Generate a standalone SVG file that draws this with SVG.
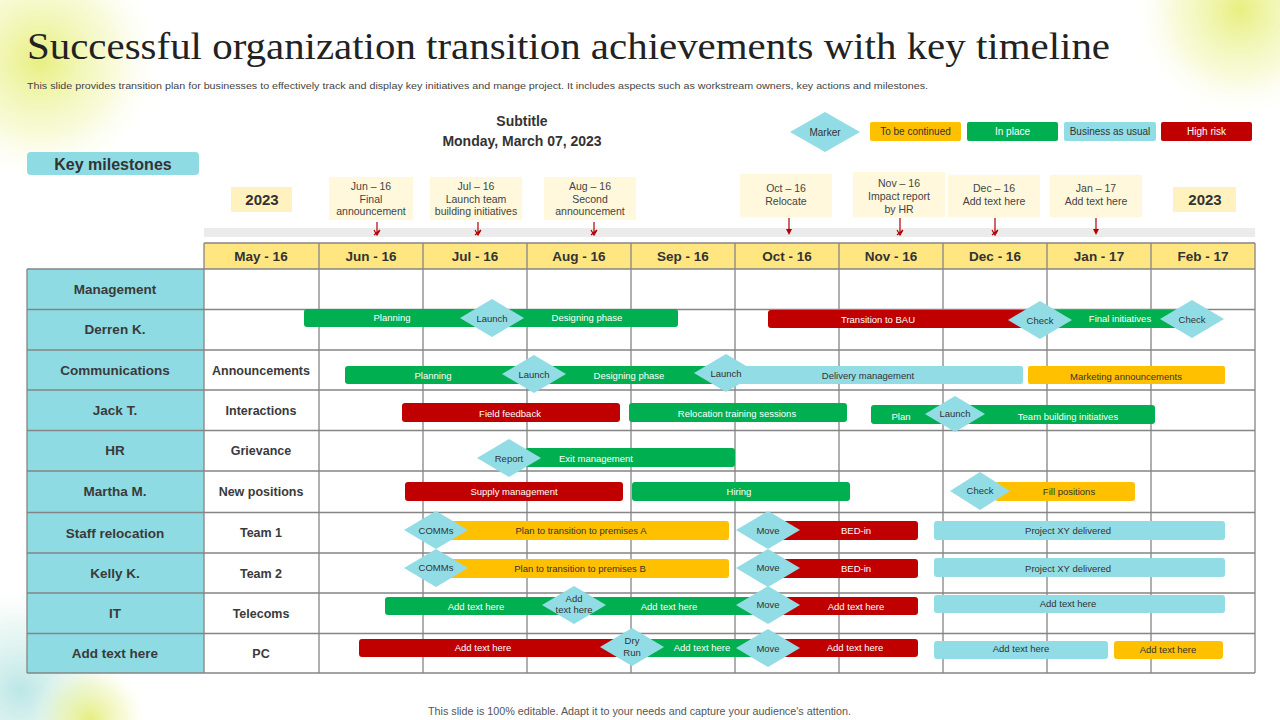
<svg xmlns="http://www.w3.org/2000/svg" width="1280" height="720" viewBox="0 0 1280 720">
<style>
text{font-family:"Liberation Sans",Arial,sans-serif;}
.title{font-family:"Liberation Serif","Times New Roman",serif;font-size:37px;fill:#222;}
.desc{font-size:9.5px;fill:#444;}
.sub{font-size:14px;font-weight:bold;fill:#333;text-anchor:middle;}
.ms{fill:#FFF8DC;}
.yr{fill:#FFF2BF;}
.mst{font-size:10.5px;fill:#444;text-anchor:middle;}
.yrt{font-size:15px;font-weight:bold;fill:#333;text-anchor:middle;}
.hdr{fill:#FFE680;}
.ht{font-size:13.5px;font-weight:bold;fill:#333;text-anchor:middle;}
.teal{fill:#8FDBE4;}
.rt{font-size:13.5px;font-weight:bold;fill:#3a3a3a;text-anchor:middle;}
.st{font-size:12.5px;font-weight:bold;fill:#3a3a3a;text-anchor:middle;}
.grid{stroke:#858585;stroke-width:1.3;fill:none;}
.g{fill:#00B050;}
.r{fill:#C00000;}
.o{fill:#FFC000;}
.b{fill:#92DCE5;}
.dm{fill:#92DCE5;}
.wt{font-size:9.5px;fill:#fff;text-anchor:middle;}
.dt{font-size:9.5px;fill:#333;text-anchor:middle;}
.arr{stroke:#B00000;stroke-width:1.2;fill:none;}
.lg{font-size:10px;text-anchor:middle;}
</style>
<defs>
<radialGradient id="glowY" cx="50%" cy="50%" r="50%">
<stop offset="0" stop-color="#E3EC68" stop-opacity="0.85"/>
<stop offset="0.6" stop-color="#EEF4A0" stop-opacity="0.4"/>
<stop offset="1" stop-color="#ffffff" stop-opacity="0"/>
</radialGradient>
<radialGradient id="glowT" cx="50%" cy="50%" r="50%">
<stop offset="0" stop-color="#8ED6D6" stop-opacity="0.6"/>
<stop offset="0.6" stop-color="#BFE8DD" stop-opacity="0.3"/>
<stop offset="1" stop-color="#ffffff" stop-opacity="0"/>
</radialGradient>
</defs>
<rect width="1280" height="720" fill="#fff"/>
<circle cx="40" cy="60" r="125" fill="url(#glowY)"/>
<circle cx="1240" cy="10" r="110" fill="url(#glowY)"/>
<circle cx="20" cy="690" r="110" fill="url(#glowT)"/>
<circle cx="90" cy="720" r="60" fill="url(#glowY)"/>

<text class="title" x="27" y="59" textLength="1083" lengthAdjust="spacingAndGlyphs">Successful organization transition achievements with key timeline</text>
<text class="desc" x="27" y="89" textLength="901" lengthAdjust="spacingAndGlyphs">This slide provides transition plan for businesses to effectively track and display key initiatives and mange project. It includes aspects such as workstream owners, key actions and milestones.</text>
<text class="sub" x="522" y="126">Subtitle</text>
<text class="sub" x="522" y="146">Monday, March 07, 2023</text>

<g id="key-milestones">
<rect x="27" y="152" width="172" height="23" rx="4" class="teal"/>
<text x="113" y="169.5" font-size="16" font-weight="bold" fill="#333" text-anchor="middle">Key milestones</text>
</g>

<g id="legend">
<polygon points="790,132 825,112 860,132 825,152" class="dm"/>
<text class="lg" x="825" y="135.5" fill="#333">Marker</text>
<rect x="870" y="122" width="91" height="19" rx="2" class="o"/>
<text class="lg" x="915.5" y="135" fill="#333">To be continued</text>
<rect x="967" y="122" width="91" height="19" rx="2" class="g"/>
<text class="lg" x="1012.5" y="135" fill="#fff">In place</text>
<rect x="1064" y="122" width="92" height="19" rx="2" class="b"/>
<text class="lg" x="1110" y="135" fill="#333">Business as usual</text>
<rect x="1161" y="122" width="91" height="19" rx="2" class="r"/>
<text class="lg" x="1206.5" y="135" fill="#fff">High risk</text>
</g>

<rect x="204" y="228" width="1051" height="9" fill="#EBEBEB"/>

<g id="ms-2023-left"><rect x="231" y="187" width="61" height="25" class="yr"/><text class="yrt" x="262" y="205">2023</text></g>
<g id="ms-jun"><rect x="329" y="177" width="84" height="43" class="ms"/>
<text class="mst" x="371" y="190">Jun – 16</text><text class="mst" x="371" y="202.5">Final</text><text class="mst" x="371" y="215">announcement</text></g>
<g id="ms-jul"><rect x="430" y="177" width="92" height="43" class="ms"/>
<text class="mst" x="476" y="190">Jul – 16</text><text class="mst" x="476" y="202.5">Launch team</text><text class="mst" x="476" y="215">building initiatives</text></g>
<g id="ms-aug"><rect x="544" y="177" width="92" height="43" class="ms"/>
<text class="mst" x="590" y="190">Aug – 16</text><text class="mst" x="590" y="202.5">Second</text><text class="mst" x="590" y="215">announcement</text></g>
<g id="ms-oct"><rect x="740" y="174" width="92" height="43" class="ms"/>
<text class="mst" x="786" y="192">Oct – 16</text><text class="mst" x="786" y="205">Relocate</text></g>
<g id="ms-nov"><rect x="853" y="172" width="92" height="45" class="ms"/>
<text class="mst" x="899" y="187">Nov – 16</text><text class="mst" x="899" y="200">Impact report</text><text class="mst" x="899" y="213">by HR</text></g>
<g id="ms-dec"><rect x="948" y="175" width="92" height="42" class="ms"/>
<text class="mst" x="994" y="192">Dec – 16</text><text class="mst" x="994" y="205">Add text here</text></g>
<g id="ms-jan"><rect x="1050" y="175" width="92" height="42" class="ms"/>
<text class="mst" x="1096" y="192">Jan – 17</text><text class="mst" x="1096" y="205">Add text here</text></g>
<g id="ms-2023-right"><rect x="1173" y="187" width="63" height="25" class="yr"/><text class="yrt" x="1205" y="205">2023</text></g>

<g id="connectors">
<line class="arr" x1="377" y1="222" x2="377" y2="234"/><path class="arr" d="M374,230 L377,235 L380,230 M374,235 L380,230"/>
<line class="arr" x1="478" y1="222" x2="478" y2="234"/><path class="arr" d="M475,230 L478,235 L481,230 M475,235 L481,230"/>
<line class="arr" x1="594" y1="222" x2="594" y2="234"/><path class="arr" d="M591,230 L594,235 L597,230 M591,235 L597,230"/>
<line class="arr" x1="789" y1="218" x2="789" y2="230"/><path d="M786,229 L792,229 L789,235 Z" fill="#B00000"/>
<line class="arr" x1="900" y1="218" x2="900" y2="234"/><path class="arr" d="M897,230 L900,235 L903,230 M897,235 L903,230"/>
<line class="arr" x1="995" y1="218" x2="995" y2="234"/><path class="arr" d="M992,230 L995,235 L998,230 M992,235 L998,230"/>
<line class="arr" x1="1096" y1="218" x2="1096" y2="230"/><path d="M1093,229 L1099,229 L1096,235 Z" fill="#B00000"/>
</g>

<g id="table">
<rect x="204" y="243" width="1051" height="26" class="hdr"/>
<rect x="27" y="269" width="177" height="404" class="teal"/>
<g class="grid">
<path d="M204,243 H1255 M27,269 H1255 M27,309.5 H1255 M27,350 H1255 M27,390 H1255 M27,430.5 H1255 M27,471 H1255 M27,512.5 H1255 M27,553 H1255 M27,593 H1255 M27,633.5 H1255 M27,673 H1255"/>
<path d="M27,269 V673 M204,243 V673 M319,243 V673 M423,243 V673 M527,243 V673 M631,243 V673 M735,243 V673 M839,243 V673 M943,243 V673 M1047,243 V673 M1151,243 V673 M1255,243 V673"/>
</g>
<text class="ht" x="261" y="261">May - 16</text>
<text class="ht" x="371" y="261">Jun - 16</text>
<text class="ht" x="475" y="261">Jul - 16</text>
<text class="ht" x="579" y="261">Aug - 16</text>
<text class="ht" x="683" y="261">Sep - 16</text>
<text class="ht" x="787" y="261">Oct - 16</text>
<text class="ht" x="891" y="261">Nov - 16</text>
<text class="ht" x="995" y="261">Dec - 16</text>
<text class="ht" x="1099" y="261">Jan - 17</text>
<text class="ht" x="1203" y="261">Feb - 17</text>
<text class="rt" x="115" y="294">Management</text>
<text class="rt" x="115" y="334">Derren K.</text>
<text class="rt" x="115" y="375">Communications</text>
<text class="rt" x="115" y="415">Jack T.</text>
<text class="rt" x="115" y="455">HR</text>
<text class="rt" x="115" y="496">Martha M.</text>
<text class="rt" x="115" y="538">Staff relocation</text>
<text class="rt" x="115" y="578">Kelly K.</text>
<text class="rt" x="115" y="618">IT</text>
<text class="rt" x="115" y="658">Add text here</text>
<text class="st" x="261" y="375">Announcements</text>
<text class="st" x="261" y="415">Interactions</text>
<text class="st" x="261" y="455">Grievance</text>
<text class="st" x="261" y="496">New positions</text>
<text class="st" x="261" y="537">Team 1</text>
<text class="st" x="261" y="578">Team 2</text>
<text class="st" x="261" y="618">Telecoms</text>
<text class="st" x="261" y="658">PC</text>
</g>

<g id="row-derren">
<rect class="g" x="304" y="309" width="374" height="18" rx="3"/>
<text class="wt" x="392" y="321">Planning</text>
<text class="wt" x="587" y="321">Designing phase</text>
<polygon class="dm" points="460,318 492,299 524,318 492,337"/>
<text class="dt" x="492" y="322">Launch</text>
<rect class="r" x="768" y="310" width="272" height="18" rx="3"/>
<text class="wt" x="878" y="323">Transition to BAU</text>
<rect class="g" x="1040" y="310" width="150" height="18" rx="3"/>
<text class="wt" x="1120" y="322">Final initiatives</text>
<polygon class="dm" points="1008,320 1040,301 1072,320 1040,339"/>
<text class="dt" x="1040" y="324">Check</text>
<polygon class="dm" points="1160,319 1192,300 1224,319 1192,338"/>
<text class="dt" x="1192" y="323">Check</text>
</g>

<g id="row-communications">
<rect class="g" x="345" y="366" width="395" height="18" rx="3"/>
<text class="wt" x="433" y="379">Planning</text>
<text class="wt" x="629" y="379">Designing phase</text>
<rect class="b" x="726" y="366" width="297" height="18" rx="2"/>
<text class="dt" x="868" y="379">Delivery management</text>
<rect class="o" x="1028" y="366" width="197" height="18" rx="2"/>
<text class="dt" x="1126" y="380">Marketing announcements</text>
<polygon class="dm" points="502,374 534,355 566,374 534,393"/>
<text class="dt" x="534" y="378">Launch</text>
<polygon class="dm" points="694,373 726,354 758,373 726,392"/>
<text class="dt" x="726" y="377">Launch</text>
</g>

<g id="row-jack">
<rect class="r" x="402" y="403" width="218" height="19" rx="3"/>
<text class="wt" x="510" y="417">Field feedback</text>
<rect class="g" x="629" y="403" width="218" height="19" rx="3"/>
<text class="wt" x="737" y="417">Relocation training sessions</text>
<rect class="g" x="871" y="405" width="284" height="19" rx="3"/>
<text class="wt" x="901" y="420">Plan</text>
<text class="wt" x="1068" y="420">Team building initiatives</text>
<polygon class="dm" points="925,414 955,396 985,414 955,432"/>
<text class="dt" x="955" y="417">Launch</text>
</g>

<g id="row-hr">
<rect class="g" x="525" y="448" width="210" height="19" rx="3"/>
<text class="wt" x="596" y="462">Exit management</text>
<polygon class="dm" points="477,458 509,439 541,458 509,477"/>
<text class="dt" x="509" y="461.5">Report</text>
</g>

<g id="row-martha">
<rect class="r" x="405" y="482" width="218" height="19" rx="3"/>
<text class="wt" x="514" y="495">Supply management</text>
<rect class="g" x="632" y="482" width="218" height="19" rx="3"/>
<text class="wt" x="739" y="495">Hiring</text>
<rect class="o" x="995" y="482" width="140" height="19" rx="3"/>
<text class="dt" x="1069" y="495">Fill positions</text>
<polygon class="dm" points="950,491 980,472 1010,491 980,510"/>
<text class="dt" x="980" y="494">Check</text>
</g>

<g id="row-team1">
<rect class="o" x="445" y="521" width="284" height="19" rx="3"/>
<text class="dt" x="581" y="534">Plan to transition to premises A</text>
<rect class="r" x="770" y="521" width="148" height="19" rx="3"/>
<text class="wt" x="856" y="534">BED-in</text>
<rect class="b" x="934" y="521" width="291" height="19" rx="3"/>
<text class="dt" x="1068" y="534">Project XY delivered</text>
<polygon class="dm" points="404,530 436,511 468,530 436,549"/>
<text class="dt" x="436" y="533.5">COMMs</text>
<polygon class="dm" points="736,530 768,511 800,530 768,549"/>
<text class="dt" x="768" y="533.5">Move</text>
</g>

<g id="row-team2">
<rect class="o" x="445" y="559" width="284" height="19" rx="3"/>
<text class="dt" x="580" y="572">Plan to transition to premises B</text>
<rect class="r" x="770" y="559" width="148" height="19" rx="3"/>
<text class="wt" x="856" y="572">BED-in</text>
<rect class="b" x="934" y="558" width="291" height="19" rx="3"/>
<text class="dt" x="1068" y="571.5">Project XY delivered</text>
<polygon class="dm" points="404,568 436,549 468,568 436,587"/>
<text class="dt" x="436" y="571">COMMs</text>
<polygon class="dm" points="736,568 768,549 800,568 768,587"/>
<text class="dt" x="768" y="571">Move</text>
</g>

<g id="row-telecoms">
<rect class="g" x="385" y="597" width="390" height="18" rx="3"/>
<text class="wt" x="476" y="610">Add text here</text>
<text class="wt" x="669" y="610">Add text here</text>
<rect class="r" x="770" y="597" width="148" height="18" rx="3"/>
<text class="wt" x="856" y="610">Add text here</text>
<rect class="b" x="934" y="595" width="291" height="18" rx="3"/>
<text class="dt" x="1068" y="607">Add text here</text>
<polygon class="dm" points="542,605 574,586 606,605 574,624"/>
<text class="dt" x="574" y="602">Add</text>
<text class="dt" x="574" y="613">text here</text>
<polygon class="dm" points="736,605 768,586 800,605 768,624"/>
<text class="dt" x="768" y="608">Move</text>
</g>

<g id="row-pc">
<rect class="r" x="359" y="639" width="270" height="18" rx="3"/>
<text class="wt" x="483" y="651">Add text here</text>
<rect class="g" x="625" y="639" width="150" height="18" rx="3"/>
<text class="wt" x="702" y="651">Add text here</text>
<rect class="r" x="770" y="639" width="148" height="18" rx="3"/>
<text class="wt" x="855" y="651">Add text here</text>
<rect class="b" x="934" y="641" width="174" height="18" rx="3"/>
<text class="dt" x="1021" y="652">Add text here</text>
<rect class="o" x="1114" y="641" width="109" height="18" rx="3"/>
<text class="dt" x="1168" y="653">Add text here</text>
<polygon class="dm" points="600,647 632,628 664,647 632,666"/>
<text class="dt" x="632" y="644">Dry</text>
<text class="dt" x="632" y="656">Run</text>
<polygon class="dm" points="736,648 768,629 800,648 768,667"/>
<text class="dt" x="768" y="651.5">Move</text>
</g>

<text x="428" y="715" font-size="10.5" fill="#555" textLength="423" lengthAdjust="spacingAndGlyphs">This slide is 100% editable. Adapt it to your needs and capture your audience's attention.</text>
</svg>
